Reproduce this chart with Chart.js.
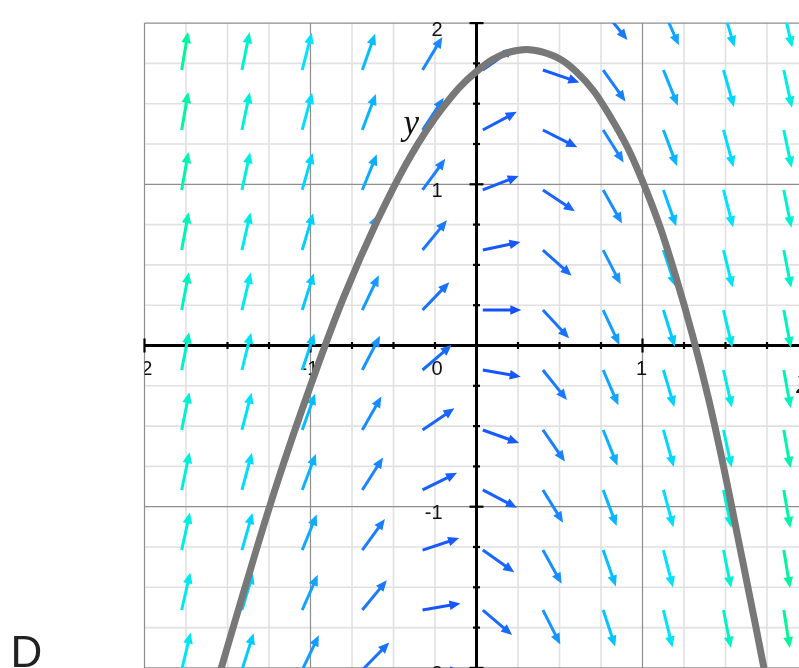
<!DOCTYPE html>
<html>
<head>
<meta charset="utf-8">
<script src="https://cdn.jsdelivr.net/npm/chart.js@4.4.1/dist/chart.umd.min.js"></script>
<style>
  html, body { margin: 0; padding: 0; background: #fff; width: 799px; height: 668px; overflow: hidden; }
  #wrap { position: absolute; left: 0; top: 0; width: 840px; height: 700px; }
</style>
</head>
<body>
<div id="wrap"><canvas id="field" width="840" height="700"></canvas></div>
<script>
// Sample points of the direction field (arrow tails)
const fieldX = [-1.776, -1.413, -1.050, -0.688, -0.325, 0.038, 0.400, 0.763, 1.126, 1.488, 1.851];
const fieldY = [2.081, 1.709, 1.337, 0.965, 0.592, 0.220, -0.152, -0.524, -0.896, -1.269, -1.641, -2.013];

// dy/dx at each sample point, one row per fieldY value (top to bottom)
const slopes = [
  [6.38, 5.29, 4.20, 3.10, 2.01, 0.92, -0.18, -1.27, -2.36, -3.45, -4.55],
  [6.19, 5.10, 4.01, 2.92, 1.72, 0.73, -0.35, -1.45, -2.55, -3.64, -4.73],
  [6.01, 4.92, 3.82, 2.73, 1.56, 0.55, -0.52, -1.64, -2.73, -3.83, -4.92],
  [5.82, 4.73, 3.64, 2.54, 1.41, 0.40, -0.69, -1.83, -2.92, -4.01, -5.11],
  [5.64, 4.54, 3.45, 2.36, 1.26, 0.22, -0.92, -2.01, -3.11, -4.20, -5.29],
  [5.45, 4.36, 3.26, 2.17, 1.07, 0.00, -1.11, -2.20, -3.29, -4.39, -5.48],
  [5.26, 4.17, 3.08, 1.98, 0.89, -0.18, -1.29, -2.39, -3.48, -4.57, -5.66],
  [5.08, 3.98, 2.89, 1.80, 0.70, -0.37, -1.48, -2.57, -3.67, -4.76, -5.85],
  [4.89, 3.80, 2.71, 1.61, 0.51, -0.54, -1.67, -2.76, -3.85, -4.94, -6.04],
  [4.70, 3.61, 2.52, 1.42, 0.34, -0.73, -1.85, -2.94, -4.04, -5.13, -6.22],
  [4.52, 3.43, 2.33, 1.25, 0.18, -0.88, -2.04, -3.13, -4.23, -5.32, -6.41],
  [4.33, 3.24, 2.15, 1.05, -0.04, -1.10, -2.23, -3.32, -4.41, -5.50, -6.60]
];

// Solution curve y(x)
const curveX = [-1.56, -1.40, -1.20, -1.00, -0.80, -0.60, -0.40, -0.20, 0.00, 0.20, 0.40, 0.60, 0.80, 1.00, 1.20, 1.40, 1.60, 1.76];
const curveY = [-2.08, -1.52, -0.85, -0.25, 0.30, 0.77, 1.17, 1.48, 1.70, 1.82, 1.82, 1.70, 1.43, 1.02, 0.43, -0.34, -1.32, -2.15];

// Axis tick labels
const xTickValues = [-2, -1, 1, 2];
const xTickLabels = ['-2', '-1', '1', '2'];
const yTickValues = [2, 1, -1, -2];
const yTickLabels = ['2', '1', '-1', '-2'];
const originLabel = '0';
const panelLetter = 'D';

// Colour ramp by slope magnitude: blue (flat) -> cyan -> green (steep)
const rampStops = [
  [0, 21, 80, 255], [1, 26, 110, 255], [2, 24, 148, 255], [3, 5, 192, 255],
  [4, 0, 226, 255], [5, 0, 241, 212], [6, 0, 245, 165], [7, 0, 248, 130]
];
function rampColor(m) {
  m = Math.min(Math.abs(m), 7);
  for (let i = 0; i < rampStops.length - 1; i++) {
    const a = rampStops[i], b = rampStops[i + 1];
    if (m <= b[0]) {
      const t = (m - a[0]) / (b[0] - a[0]);
      const c = [1, 2, 3].map(k => Math.round(a[k] + (b[k] - a[k]) * t));
      return `rgb(${c[0]},${c[1]},${c[2]})`;
    }
  }
  return 'rgb(0,248,130)';
}

function segment(ctx, x1, y1, x2, y2) {
  ctx.beginPath(); ctx.moveTo(x1, y1); ctx.lineTo(x2, y2); ctx.stroke();
}

const fieldBackdrop = {
  id: 'fieldBackdrop',
  beforeDatasetsDraw(chart) {
    const { ctx, chartArea: a } = chart;
    const xs = chart.scales.x, ys = chart.scales.y;
    const x0 = xs.getPixelForValue(0), y0 = ys.getPixelForValue(0);
    ctx.save();

    // quarter-unit grid, integer lines darker
    for (const pass of ['minor', 'major']) {
      for (let i = -8; i <= 8; i++) {
        const major = i % 4 === 0;
        if ((pass === 'major') !== major) continue;
        ctx.strokeStyle = major ? '#8e8e8e' : '#e1e1e1';
        ctx.lineWidth = major ? 1.2 : 1.6;
        const v = i / 4;
        const px = xs.getPixelForValue(v);
        if (px >= a.left - 1 && px <= a.right + 1) segment(ctx, px, a.top, px, a.bottom);
        const py = ys.getPixelForValue(v);
        if (py >= a.top - 1 && py <= a.bottom + 1) segment(ctx, a.left, py, a.right, py);
      }
    }

    // axes through the origin
    ctx.strokeStyle = '#000';
    ctx.lineWidth = 3;
    segment(ctx, a.left, y0, a.right, y0);
    segment(ctx, x0, a.top, x0, a.bottom);
    ctx.lineWidth = 2.2;
    for (let i = -8; i <= 8; i++) {
      if (i === 0) continue;
      const half = i % 4 === 0 ? 7 : 3.5;
      const v = i / 4;
      const px = xs.getPixelForValue(v), py = ys.getPixelForValue(v);
      segment(ctx, px, y0 - half, px, y0 + half);
      segment(ctx, x0 - half, py, x0 + half, py);
    }

    // tick labels
    ctx.save();
    ctx.beginPath();
    ctx.rect(a.left, 0, chart.width - a.left, chart.height);
    ctx.clip();
    ctx.fillStyle = '#111';
    ctx.font = '20px "Liberation Sans", Arial, sans-serif';
    ctx.textBaseline = 'alphabetic';
    ctx.textAlign = 'center';
    xTickValues.forEach((v, i) => {
      ctx.fillText(xTickLabels[i], xs.getPixelForValue(v) - 1, y0 + 29.5);
    });
    ctx.textAlign = 'right';
    yTickValues.forEach((v, i) => {
      ctx.fillText(yTickLabels[i], x0 - 34, ys.getPixelForValue(v) + 12.5);
    });
    ctx.fillText(originLabel, x0 - 34, y0 + 29.5);
    ctx.restore();

    // axis names
    ctx.fillStyle = '#111';
    ctx.font = 'italic 35px "Liberation Serif", "Times New Roman", serif';
    ctx.textAlign = 'left';
    ctx.fillText('y', x0 - 73, ys.getPixelForValue(1.31));
    ctx.fillText('x', x0 + 320, y0 + 47.5);

    // direction field arrows
    ctx.beginPath();
    ctx.rect(a.left, a.top, a.right - a.left, a.bottom - a.top);
    ctx.clip();
    const len = 38.5, head = 11, hw = 4.8;
    fieldY.forEach((yv, r) => {
      fieldX.forEach((xv, c) => {
        const s = slopes[r][c];
        const tx = xs.getPixelForValue(xv), ty = ys.getPixelForValue(yv);
        let dx = xs.getPixelForValue(xv + 1) - tx;
        let dy = ys.getPixelForValue(yv + s) - ty;
        const L = Math.hypot(dx, dy);
        dx /= L; dy /= L;
        const hx = tx + dx * len, hy = ty + dy * len;
        const bx = hx - dx * head, by = hy - dy * head;
        const col = rampColor(s);
        ctx.strokeStyle = col;
        ctx.fillStyle = col;
        ctx.lineWidth = 3;
        ctx.lineCap = 'butt';
        segment(ctx, tx, ty, bx + dx * 1.5, by + dy * 1.5);
        ctx.beginPath();
        ctx.moveTo(hx, hy);
        ctx.lineTo(bx - dy * hw, by + dx * hw);
        ctx.lineTo(bx + dy * hw, by - dx * hw);
        ctx.closePath();
        ctx.fill();
      });
    });
    ctx.restore();
  },
  afterDraw(chart) {
    const ctx = chart.ctx;
    ctx.save();
    ctx.fillStyle = '#222';
    ctx.font = '44px "Liberation Sans", Arial, sans-serif';
    ctx.textAlign = 'left';
    ctx.textBaseline = 'alphabetic';
    ctx.fillText(panelLetter, 10.5, 666.5);
    ctx.restore();
  }
};

new Chart(document.getElementById('field'), {
  type: 'scatter',
  data: {
    datasets: [{
      type: 'line',
      label: 'y',
      data: curveX.map((x, i) => ({ x, y: curveY[i] })),
      borderColor: '#787878',
      borderWidth: 7,
      pointRadius: 0,
      fill: false,
      tension: 0.4,
      clip: 0
    }]
  },
  options: {
    responsive: false,
    animation: false,
    events: [],
    layout: { padding: { left: 144.5, right: 31.5, top: 23.1, bottom: 32.1 } },
    plugins: { legend: { display: false }, tooltip: { enabled: false } },
    scales: {
      x: { type: 'linear', min: -2, max: 2, display: false },
      y: { type: 'linear', min: -2, max: 2, display: false }
    }
  },
  plugins: [fieldBackdrop]
});
</script>
</body>
</html>
